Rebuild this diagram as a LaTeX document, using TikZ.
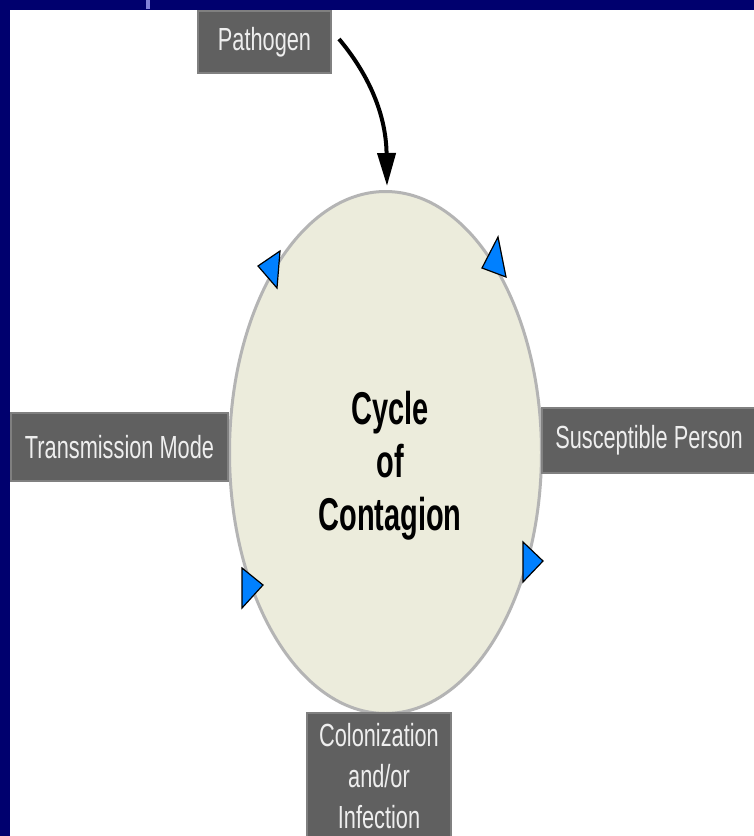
\documentclass[tikz,border=0pt]{standalone}
\usepackage{fontspec}
\setmainfont{Liberation Sans}
\newfontfamily\boxfont[FakeStretch=0.68]{Liberation Sans}
\newfontfamily\titlefont[FakeStretch=0.63]{Liberation Sans Bold}
\usetikzlibrary{shapes.geometric,arrows.meta}
\definecolor{navy}{RGB}{0,0,110}
\definecolor{stripe}{RGB}{130,130,215}
\definecolor{boxgray}{RGB}{96,96,96}
\definecolor{boxedge}{RGB}{128,128,128}
\definecolor{boxtext}{RGB}{238,238,238}
\definecolor{cyclefill}{RGB}{236,236,220}
\definecolor{cycleedge}{RGB}{180,180,180}
\definecolor{cycleblue}{RGB}{0,128,255}
\begin{document}
\begin{tikzpicture}[x=1pt,y=-1pt,
  labelbox/.style={rectangle, fill=boxgray, draw=boxedge, line width=2pt,
    text=boxtext, inner sep=0pt, align=center,
    font=\boxfont\fontsize{32}{41}\selectfont},
  marker/.style={fill=cycleblue, draw=black, line width=1.2pt, line join=miter},
  pathogenarrow/.style={line width=4pt, -{Triangle[length=33pt,width=18pt]}}]
\useasboundingbox (0,0) rectangle (754,836);
\fill[white] (0,0) rectangle (754,836);
% frame bands
\fill[navy] (0,0) rectangle (754,10);
\fill[navy] (0,0) rectangle (10,836);
\fill[stripe] (146,0) rectangle (150,9);
% central ellipse
\node[ellipse, fill=cyclefill, draw=cycleedge, line width=3pt,
      minimum width=312pt, minimum height=522pt, inner sep=0pt] (cycle) at (385.5,452.5) {};
\node[font=\titlefont\fontsize{46}{53}\selectfont, align=center, inner sep=0pt] (title) at (390,466) {Cycle\\of\\Contagion};
% markers on the ellipse
\draw[marker] (280,251) -- (258,266) -- (277,288) -- cycle;
\draw[marker] (498,237) -- (482,268) -- (506,277) -- cycle;
\draw[marker] (242,568) -- (263,585) -- (242,608) -- cycle;
\draw[marker] (523,542) -- (543,561) -- (523,582) -- cycle;
% label boxes
\node[labelbox, minimum width=133pt, minimum height=62pt] (pathogen) at (264.5,42) {Pathogen};
\node[labelbox, minimum width=217pt, minimum height=68pt] (transmission) at (119.5,447) {Transmission Mode};
\node[labelbox, minimum width=214pt, minimum height=65pt] (susceptible) at (649,440.5) {Susceptible Person};
\node[labelbox, minimum width=144pt, minimum height=126pt] (colonization) at (379,776) {Colonization\\and/or\\Infection};
% arrow from pathogen to the cycle
\coordinate (cycletop) at (387,186);
\draw[pathogenarrow] ([xshift=7pt,yshift=3pt]pathogen.east) .. controls (365,70) and (386,110) .. (cycletop);
\end{tikzpicture}
\end{document}
